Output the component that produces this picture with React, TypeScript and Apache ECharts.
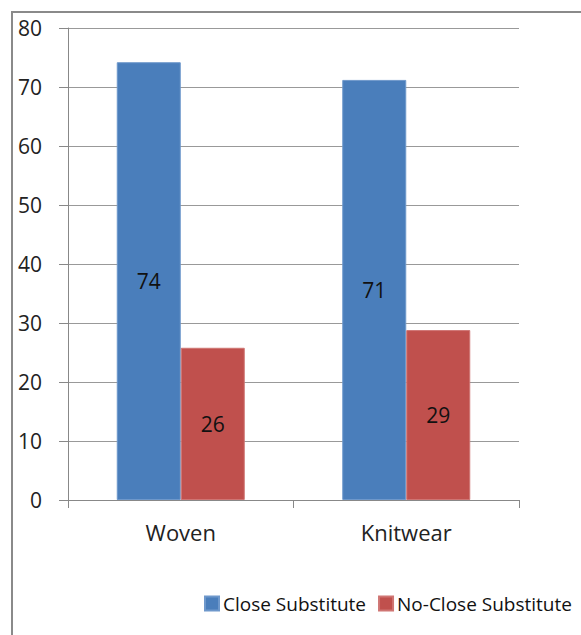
import React, { useEffect, useRef } from "react";
import * as echarts from "echarts";

const categories = ["Woven", "Knitwear"];
const closeSubstitute = [74.2, 71.2];
const noCloseSubstitute = [25.8, 28.8];
const seriesNames = ["Close Substitute", "No-Close Substitute"];

export default function App() {
  const ref = useRef<HTMLDivElement>(null);
  useEffect(() => {
    const chart = echarts.init(ref.current!, null, { renderer: "svg" });
    const font = "'Open Sans', 'DejaVu Sans', sans-serif";
    const label = {
      show: true,
      position: "inside",
      color: "#111",
      fontSize: 21,
      fontFamily: font,
      formatter: (p: any) => String(Math.round(p.value)),
    };
    chart.setOption({
      animation: false,
      backgroundColor: "#fff",
      graphic: [
        {
          type: "rect",
          shape: { x: 12, y: 12, width: 600, height: 650 },
          style: { fill: "none", stroke: "#8a8a8a", lineWidth: 2 },
          silent: true,
        },
      ],
      grid: { left: 68, right: 62, top: 28, bottom: 135 },
      legend: {
        left: 199,
        top: 589,
        itemWidth: 14,
        itemHeight: 14,
        itemGap: 12,
        icon: "rect",
        textStyle: { fontSize: 19, color: "#111", fontFamily: font, padding: [0, 0, 0, -1] },
        data: seriesNames,
      },
      xAxis: {
        type: "category",
        data: categories,
        axisLine: { lineStyle: { color: "#888", width: 1 } },
        axisTick: { show: true, length: 8, lineStyle: { color: "#888" } },
        axisLabel: { fontSize: 22, color: "#222", margin: 21, fontFamily: font },
      },
      yAxis: {
        type: "value",
        min: 0,
        max: 80,
        interval: 10,
        axisLine: { show: true, lineStyle: { color: "#888", width: 1 } },
        axisTick: { show: true, length: 9, lineStyle: { color: "#888" } },
        axisLabel: { fontSize: 21, color: "#222", margin: 26, fontFamily: font },
        splitLine: { lineStyle: { color: "#999", width: 1.2 } },
      },
      series: [
        {
          name: seriesNames[0],
          type: "bar",
          data: closeSubstitute,
          barWidth: 64,
          barGap: "0%",
          itemStyle: { color: "#4A7EBB", borderColor: "#6E98CB", borderWidth: 1 },
          label,
        },
        {
          name: seriesNames[1],
          type: "bar",
          data: noCloseSubstitute,
          barWidth: 64,
          barGap: "0%",
          itemStyle: { color: "#C0504D", borderColor: "#CF7573", borderWidth: 1 },
          label,
        },
      ],
    });
    return () => chart.dispose();
  }, []);
  return (
    <div
      ref={ref}
      style={{ position: "fixed", left: 0, top: 0, width: 581, height: 635 }}
    />
  );
}
